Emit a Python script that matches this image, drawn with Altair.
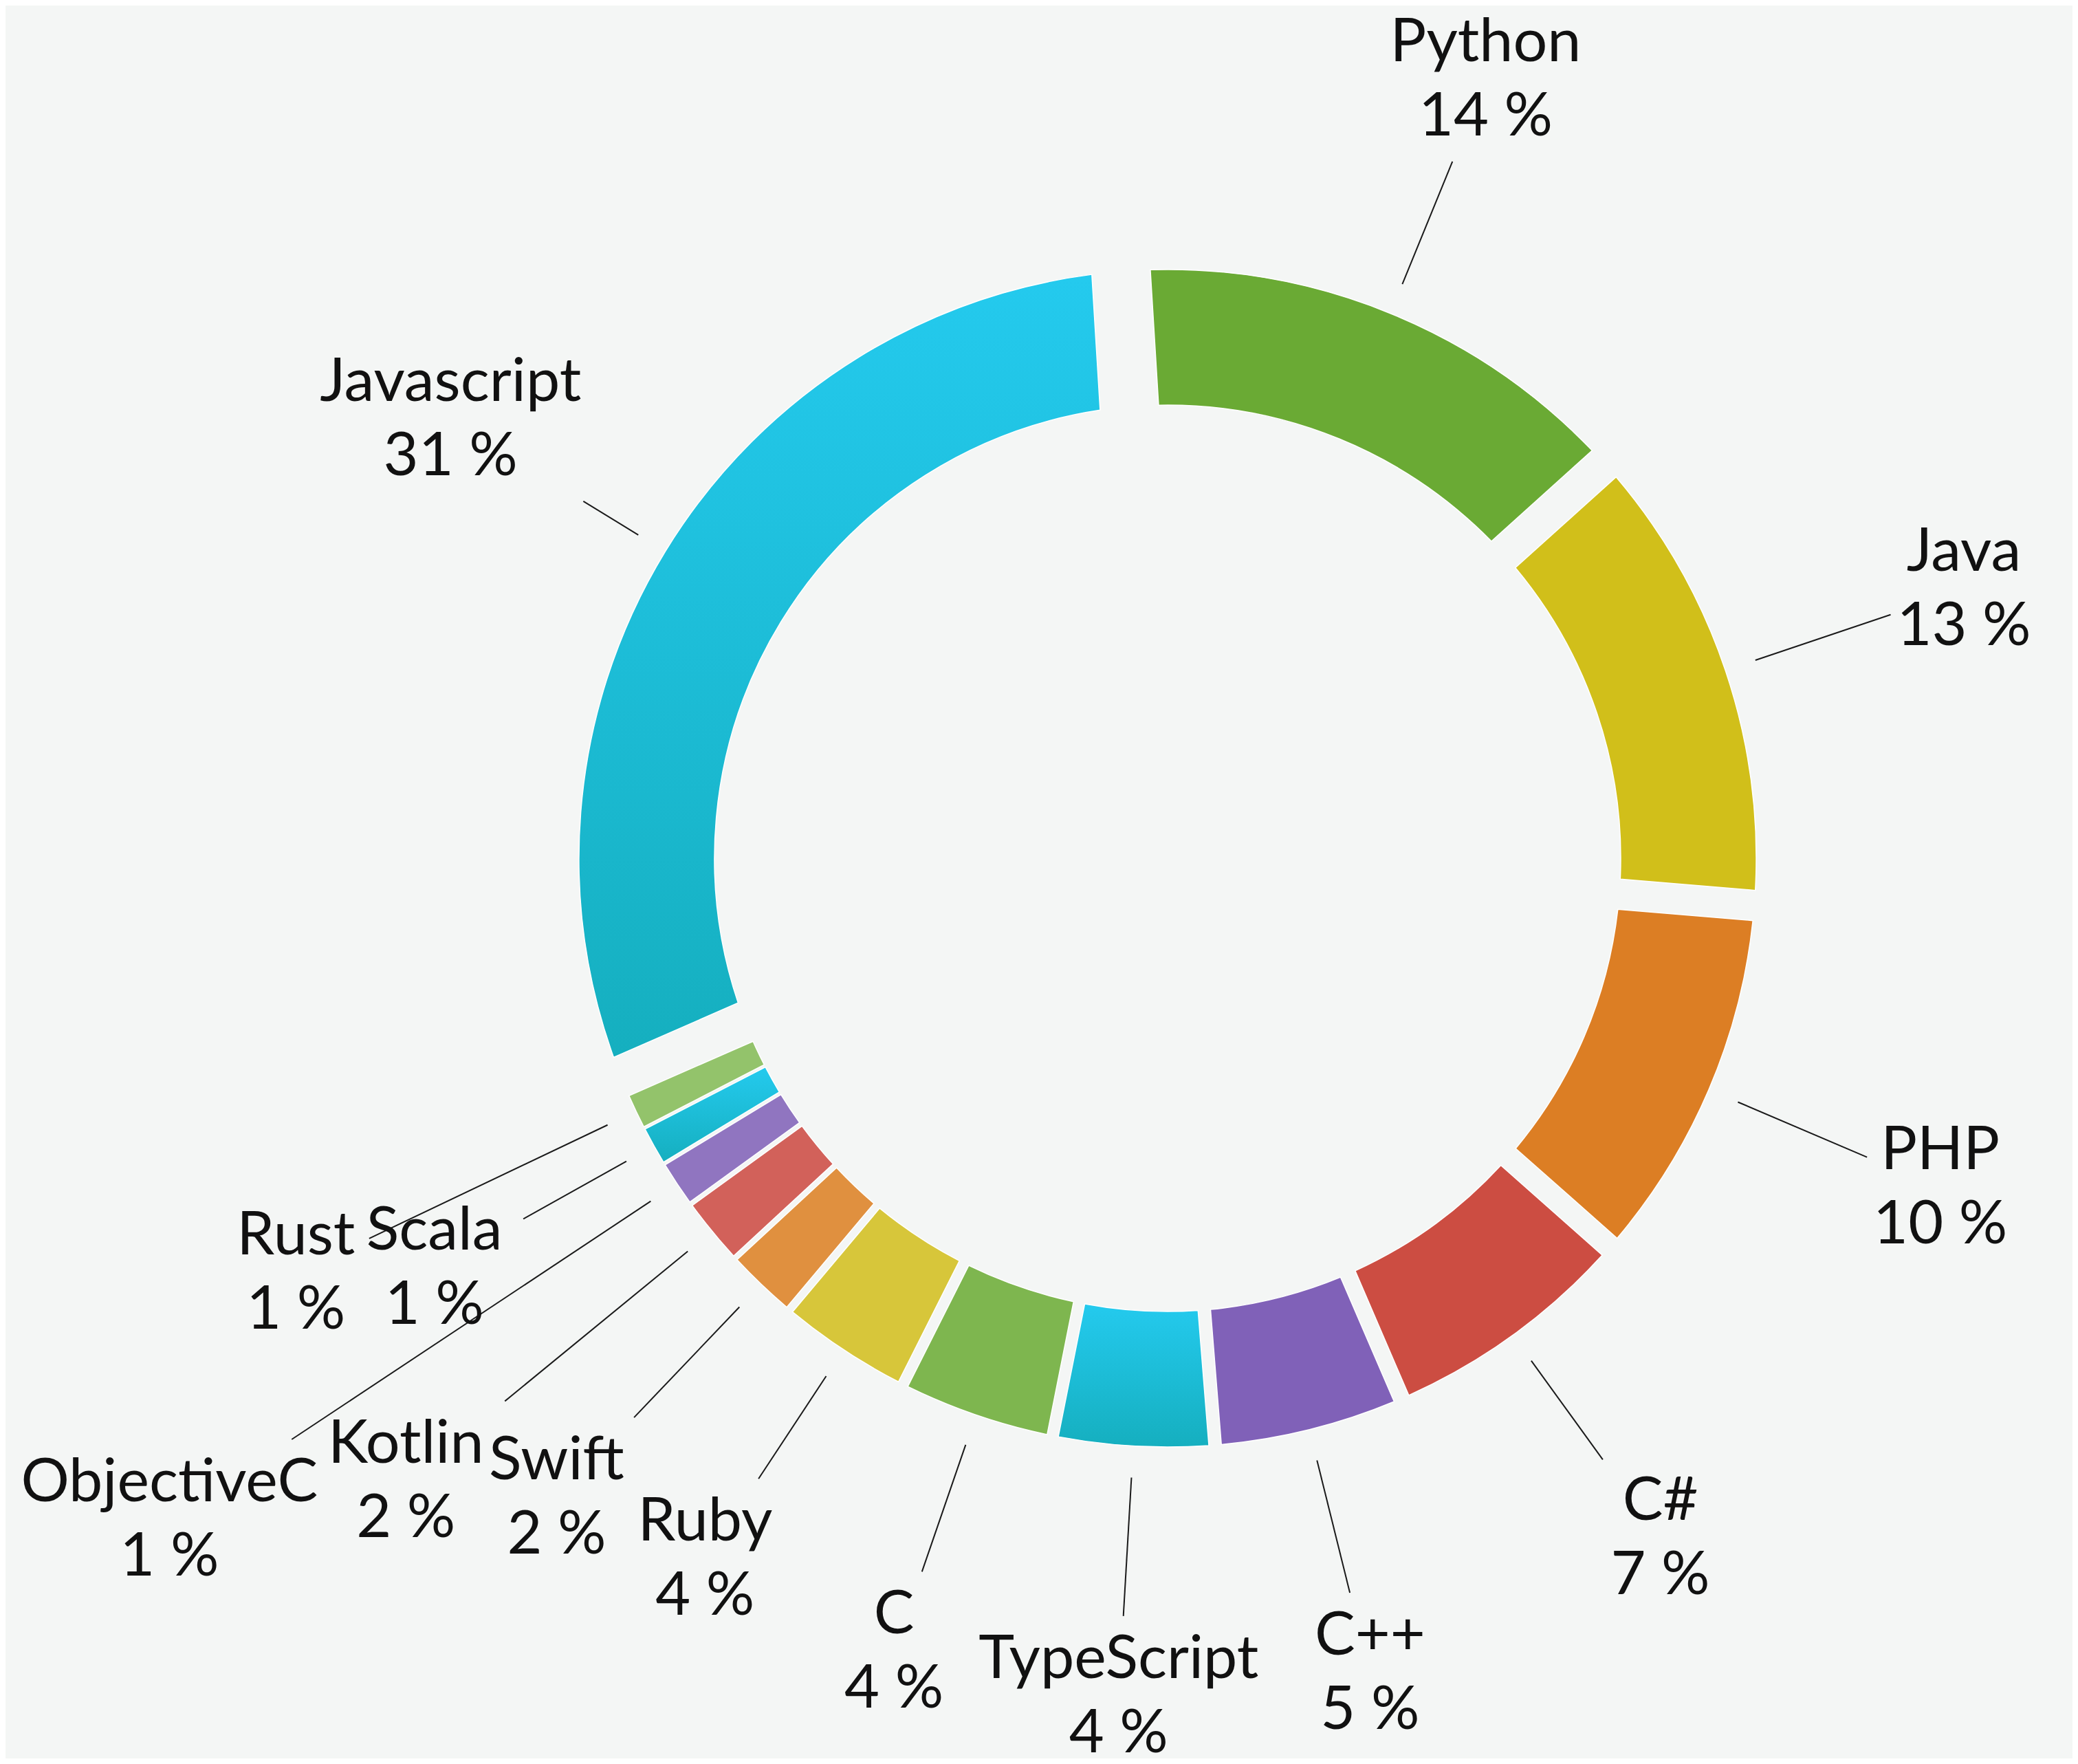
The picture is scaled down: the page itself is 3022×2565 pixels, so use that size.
import math
import altair as alt
import pandas as pd

# ---------------- data ----------------
languages = ["Python", "Java", "PHP", "C#", "C++", "TypeScript", "C",
             "Ruby", "Swift", "Kotlin", "ObjectiveC", "Scala", "Rust", "Javascript"]
shares = [14.3, 13.0, 10.2, 7.0, 5.2, 4.4, 4.3, 3.7, 2.0, 1.9, 1.3, 1.1, 1.0, 30.6]

# ---------------- styles / layout ----------------
slice_colors = ["#6aaa34", "#d1bf1a", "#dc7e24", "#cc4d42", "#8061b8", None,
                "#7eb64f", "#d7c63a", "#e0903f", "#d2615a", "#9075c0", None,
                "#93c36b", None]
label_push = [0, 0, 0, 0, 0, 0, 0, 0, 65, 210, 520, 0, 182, 0]

W, H = 3006, 2549
CX, CY = 1690, 1240
R_OUT, R_IN = 856, 659
R_LINE = 902
R_LABEL = 1222
START = math.radians(-3.5)
PAD_PER_SHARE = 0.00352
FS = 88
LINE_GAP = 54
HH = 118
BG = "#f4f6f5"

df = pd.DataFrame({
    "order": list(range(len(languages))),
    "lang": languages,
    "share": shares,
    "pct": [f"{round(s)} %" for s in shares],
    "cyan": [c is None for c in slice_colors],
    "push": label_push,
})
total = float(sum(shares))

solid_langs = [l for l, c in zip(languages, slice_colors) if c is not None]
solid_cols = [c for c in slice_colors if c is not None]

cyan_gradient = {
    "gradient": "linear", "x1": 0, "y1": 0, "x2": 0, "y2": 1,
    "stops": [{"offset": 0, "color": "#24caee"}, {"offset": 1, "color": "#15afbf"}],
}

base = (
    alt.Chart(df)
    .transform_joinaggregate(total="sum(share)")
    .transform_window(cum="sum(share)", sort=[alt.SortField("order", order="ascending")], frame=[None, 0])
    .transform_calculate(v0="datum.cum - datum.share")
    .transform_calculate(mid=f"{START} + 2*PI*(datum.cum - datum.share/2)/datum.total")
    .transform_calculate(pad=f"{PAD_PER_SHARE}*datum.share")
    .transform_calculate(lr=f"{R_LABEL} + datum.push")
    .transform_calculate(hw=f"0.26*{FS}*max(length(datum.lang), length(datum.pct)) + 15")
    .transform_calculate(gap=f"min(datum.hw/max(abs(sin(datum.mid)), 0.001), {HH}/max(abs(cos(datum.mid)), 0.001))")
    .transform_calculate(lx1=f"{CX} + {R_LINE}*sin(datum.mid)")
    .transform_calculate(ly1=f"{CY} - {R_LINE}*cos(datum.mid)")
    .transform_calculate(lx2=f"{CX} + (datum.lr - datum.gap)*sin(datum.mid)")
    .transform_calculate(ly2=f"{CY} - (datum.lr - datum.gap)*cos(datum.mid)")
    .transform_calculate(tx=f"{CX} + datum.lr*sin(datum.mid)")
    .transform_calculate(ty=f"{CY} - datum.lr*cos(datum.mid)")
)

theta_scale = alt.Scale(domain=[0, total], range=[START, START + 2 * math.pi])
xs = alt.Scale(domain=[0, W], range=[0, W], zero=False, nice=False)
ys = alt.Scale(domain=[0, H], range=[0, H], zero=False, nice=False)

arc_common = dict(radius=R_OUT, radius2=R_IN, padAngle={"expr": "datum.pad"},
                  stroke="#ffffff", strokeWidth=1.5)

solid = base.transform_filter("!datum.cyan").mark_arc(**arc_common).encode(
    theta=alt.Theta("v0:Q", scale=theta_scale),
    theta2="cum:Q",
    x=alt.value(CX), y=alt.value(CY),
    color=alt.Color("lang:N", scale=alt.Scale(domain=solid_langs, range=solid_cols), legend=None),
)

cyan = base.transform_filter("datum.cyan").mark_arc(fill=cyan_gradient, **arc_common).encode(
    theta=alt.Theta("v0:Q", scale=theta_scale),
    theta2="cum:Q",
    x=alt.value(CX), y=alt.value(CY),
)

leaders = base.mark_rule(color="#1a1a1a", strokeWidth=2).encode(
    x=alt.X("lx1:Q", scale=xs, axis=None),
    y=alt.Y("ly1:Q", scale=ys, axis=None),
    x2="lx2:Q",
    y2="ly2:Q",
)

text_common = dict(font="Lato", fontSize=FS, color="#111111", align="center", baseline="middle")
names = base.mark_text(dy=-LINE_GAP, **text_common).encode(
    x=alt.X("tx:Q", scale=xs, axis=None),
    y=alt.Y("ty:Q", scale=ys, axis=None),
    text="lang:N",
)
pcts = base.mark_text(dy=LINE_GAP, **text_common).encode(
    x=alt.X("tx:Q", scale=xs, axis=None),
    y=alt.Y("ty:Q", scale=ys, axis=None),
    text="pct:N",
)

chart = (
    alt.layer(solid, cyan, leaders, names, pcts)
    .properties(width=W, height=H, autosize=alt.AutoSizeParams(type="none"), padding=0, background=BG)
    .configure_view(stroke=None)
)

chart.save("out.html", embed_options={"renderer": "svg", "actions": False})
